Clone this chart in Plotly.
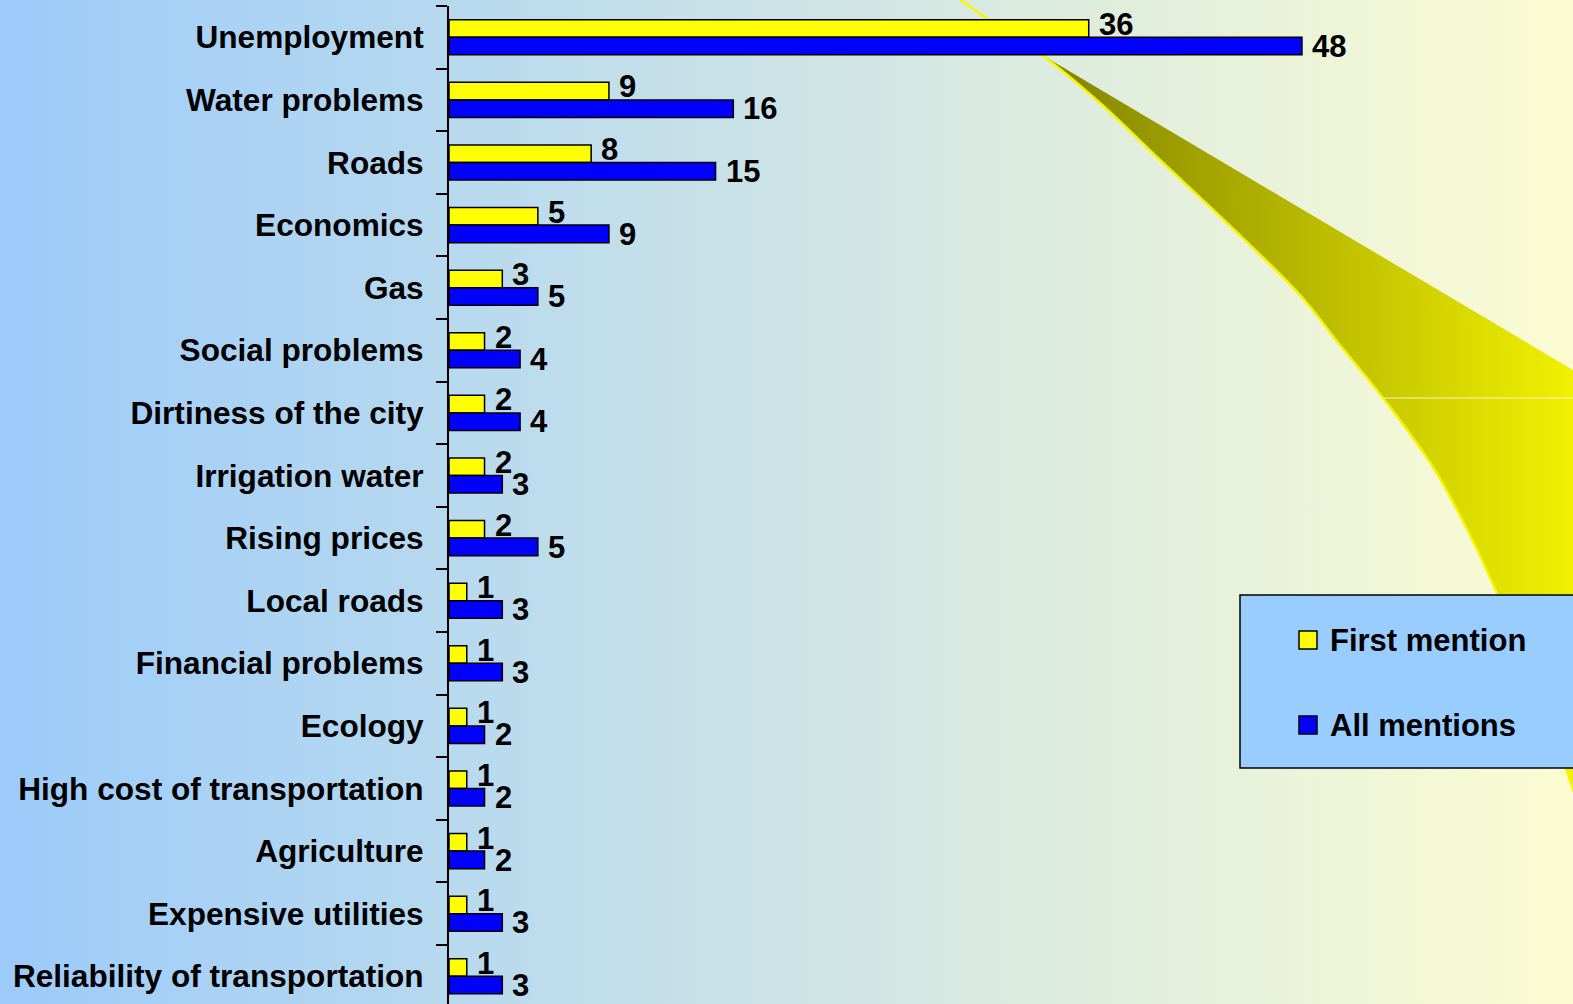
import plotly.graph_objects as go

# --- data ---
categories = ["Unemployment", "Water problems", "Roads", "Economics", "Gas",
              "Social problems", "Dirtiness of the city", "Irrigation water",
              "Rising prices", "Local roads", "Financial problems", "Ecology",
              "High cost of transportation", "Agriculture", "Expensive utilities",
              "Reliability of transportation"]
first_mention = [36, 9, 8, 5, 3, 2, 2, 2, 2, 1, 1, 1, 1, 1, 1, 1]
all_mentions = [48, 16, 15, 9, 5, 4, 4, 3, 5, 3, 3, 2, 2, 2, 3, 3]
series_names = ["First mention", "All mentions"]

# --- layout constants (pixels) ---
W, H = 1573, 1004
AXIS_X = 449          # left edge of bar area
PX_PER_UNIT = 17.77   # value scale
ROW_PX = 62.6         # height of one category row
TOP = 6
FONT = "Liberation Sans"
YELLOW, BLUE = "#FFFF00", "#0000FF"

# decorative swoosh (slide background), pixel coordinates
curve_x = [960, 1000, 1042, 1100, 1160, 1226, 1300, 1340, 1383, 1433, 1470, 1497, 1530, 1556, 1580]
curve_y = [0, 27, 55, 103, 160, 222, 295, 345, 398, 467, 535, 593, 670, 740, 810]
wedge_x = [1000, 1573, 1573] + curve_x[:0:-1]
wedge_y = [30, 370, 790] + curve_y[:0:-1]

fig = go.Figure()

# background gradient
fig.add_trace(go.Scatter(
    x=[0, W, W, 0, 0], y=[0, 0, H, H, 0], mode="lines", line_width=0,
    fill="toself",
    fillgradient=dict(type="horizontal", colorscale=[[0, "#9CCBFA"], [1, "#FCFCD2"]]),
    hoverinfo="skip", showlegend=False))

# swoosh wedge
fig.add_trace(go.Scatter(
    x=wedge_x, y=wedge_y, mode="lines", line_width=0, fill="toself",
    fillgradient=dict(type="horizontal", colorscale=[[0, "#787800"], [1, "#F2F200"]]),
    hoverinfo="skip", showlegend=False))
fig.add_trace(go.Scatter(
    x=[1383, W], y=[398, 398], mode="lines", line=dict(color="#F4F4C8", width=1),
    hoverinfo="skip", showlegend=False))
fig.add_trace(go.Scatter(
    x=curve_x, y=curve_y, mode="lines", line=dict(color="#F6F600", width=2.5, shape="spline"),
    hoverinfo="skip", showlegend=False))

# bars
for name, vals, col in zip(series_names, [first_mention, all_mentions], [YELLOW, BLUE]):
    fig.add_trace(go.Bar(
        y=categories, x=vals, orientation="h", name=name,
        marker=dict(color=col, line=dict(color="black", width=1.5)),
        xaxis="x2", yaxis="y2", hoverinfo="skip"))

annotations = []
for cat, v1, v2 in zip(categories, first_mention, all_mentions):
    for v, dy in ((v1, 13), (v2, -9)):
        annotations.append(dict(
            x=v, y=cat, xref="x2", yref="y2", text=str(v), showarrow=False,
            xanchor="left", yanchor="middle", xshift=8, yshift=dy,
            font=dict(family=FONT, size=31, color="black", weight="bold")))

# manual legend
shapes = [
    dict(type="rect", xref="x", yref="y", x0=1240, y0=595, x1=1600, y1=768,
         fillcolor="#99CCFF", line=dict(color="black", width=1.5)),
    dict(type="rect", xref="x", yref="y", x0=1299, y0=631, x1=1317, y1=649,
         fillcolor=YELLOW, line=dict(color="black", width=1.5)),
    dict(type="rect", xref="x", yref="y", x0=1299, y0=716, x1=1317, y1=734,
         fillcolor=BLUE, line=dict(color="black", width=1.5)),
]
for name, yy in zip(series_names, [640, 725]):
    annotations.append(dict(
        x=1328, y=yy, xref="x", yref="y", text=name, showarrow=False,
        xanchor="left", yanchor="middle",
        font=dict(family=FONT, size=31, color="black", weight="bold")))

rows_visible = (H - TOP) / ROW_PX
fig.update_layout(
    width=W, height=H, margin=dict(l=0, r=0, t=0, b=0),
    paper_bgcolor="white", plot_bgcolor="rgba(0,0,0,0)",
    showlegend=False, barmode="group", bargap=0.44, bargroupgap=0,
    xaxis=dict(domain=[0, 1], range=[0, W], visible=False, fixedrange=True),
    yaxis=dict(domain=[0, 1], range=[H, 0], visible=False, fixedrange=True),
    xaxis2=dict(domain=[AXIS_X / W, 1], range=[0, (W - AXIS_X) / PX_PER_UNIT],
                anchor="y2", visible=False, fixedrange=True),
    yaxis2=dict(domain=[0, 1 - TOP / H], anchor="x2", type="category",
                categoryorder="array", categoryarray=categories,
                range=[-0.5 + rows_visible, -0.5],
                showline=True, linecolor="black", linewidth=2,
                ticks="outside", tickson="boundaries", ticklen=11, tickwidth=1.5,
                tickcolor="black", showgrid=False, automargin=False,
                ticklabelstandoff=17,
                tickfont=dict(family=FONT, size=31.6, color="black", weight="bold"),
                fixedrange=True),
    shapes=shapes, annotations=annotations,
)

fig.write_html("out.html", config={"displayModeBar": False},
               post_script="document.body.style.margin='0';")
